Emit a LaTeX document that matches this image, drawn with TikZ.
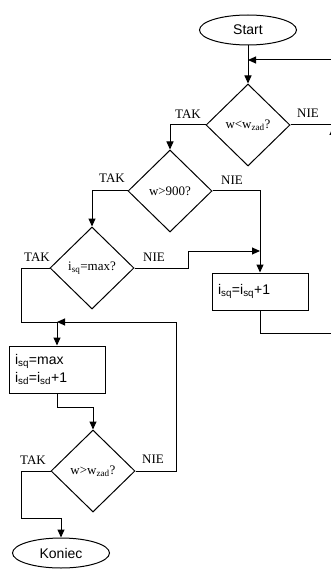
\documentclass[tikz,border=0pt]{standalone}
\usepackage{fontspec}
\setmainfont{Liberation Serif}
\setsansfont{Liberation Sans}
\usetikzlibrary{shapes.geometric,arrows.meta}

\begin{document}
\begin{tikzpicture}[x=1pt, y=-1pt, line width=1pt,
    term/.style={ellipse, draw, minimum width=97pt, minimum height=30pt, inner sep=0pt, font=\sffamily\fontsize{14}{16}\selectfont},
    cond/.style={diamond, draw, minimum width=84pt, minimum height=82pt, inner sep=0pt, font=\fontsize{13}{15}\selectfont},
    oper/.style={rectangle, draw, text width=84pt, inner xsep=6pt, align=left, font=\sffamily\fontsize{14}{18}\selectfont},
    lbl/.style={inner sep=0pt, font=\fontsize{13}{15}\selectfont},
    arr/.style={-{Triangle[length=8pt,width=7pt]}}]
        \clip (0,0) rectangle (331,569);
        \node[term] (start) at (248,30) {Start};
        \node[cond] (d1) at (248,125) {w<w\textsubscript{zad}?};
        \node[cond] (d2) at (170,191) {w>900?};
        \node[cond] (d3) at (92,268) {i\textsubscript{sq}=max?};
        \node[oper, minimum height=37pt] (b1) at (260,291.5) {i\textsubscript{sq}=i\textsubscript{sq}+1};
        \node[oper, minimum height=47pt] (b2) at (57,369.5) {i\textsubscript{sq}=max\\i\textsubscript{sd}=i\textsubscript{sd}+1};
        \node[cond] (d4) at (93,471) {w>w\textsubscript{zad}?};
        \node[term] (stop) at (61,553) {Koniec};
        \coordinate (j0) at (248,60);
        \coordinate (e1) at (333,125);
        \coordinate (k1) at (188,251);
        \coordinate (k2) at (176,322);
        \coordinate (m1) at (21,322);
        \coordinate (m2) at (57,322);
        \coordinate (n1) at (57,407);
        \coordinate (p1) at (21,518);
        \coordinate (r1) at (333,333);
        \coordinate (r2) at (333,127);
        \coordinate (r3) at (333,60);
        \draw[arr] (start) -- (d1);
        \draw[arr] (d1.west) -| (d2.north);
        \draw (d1.east) -- (e1);
        \draw[arr] (d2.west) -| (d3.north);
        \draw[arr] (d2.east) -| (b1.north);
        \draw[arr] (d3.east) -| (k1) -- (k1 -| b1.north);
        \draw (d3.west) -| (m1) -- (m2);
        \draw[arr] (k2) -- (m2);
        \draw[arr] (m2) -- (b2.north);
        \draw[arr] (b2.south) -- (n1) -| (d4.north);
        \draw (d4.east) -| (k2);
        \draw[arr] (d4.west) -| (p1) -| (stop.north);
        \draw (b1.south) |- (r1);
        \draw[arr] (r1) -- (r2);
        \draw (r2) -- (r3);
        \draw[arr] (r3) -- (j0);
        \node[lbl] (t1) at (188,114) {TAK};
        \node[lbl] (n1l) at (308,113) {NIE};
        \node[lbl] (t2) at (112,178) {TAK};
        \node[lbl] (n2l) at (232,180) {NIE};
        \node[lbl] (t3) at (37,257) {TAK};
        \node[lbl] (n3l) at (154,257) {NIE};
        \node[lbl] (t4) at (33,460) {TAK};
        \node[lbl] (n4l) at (153,459) {NIE};
\end{tikzpicture}
\end{document}
